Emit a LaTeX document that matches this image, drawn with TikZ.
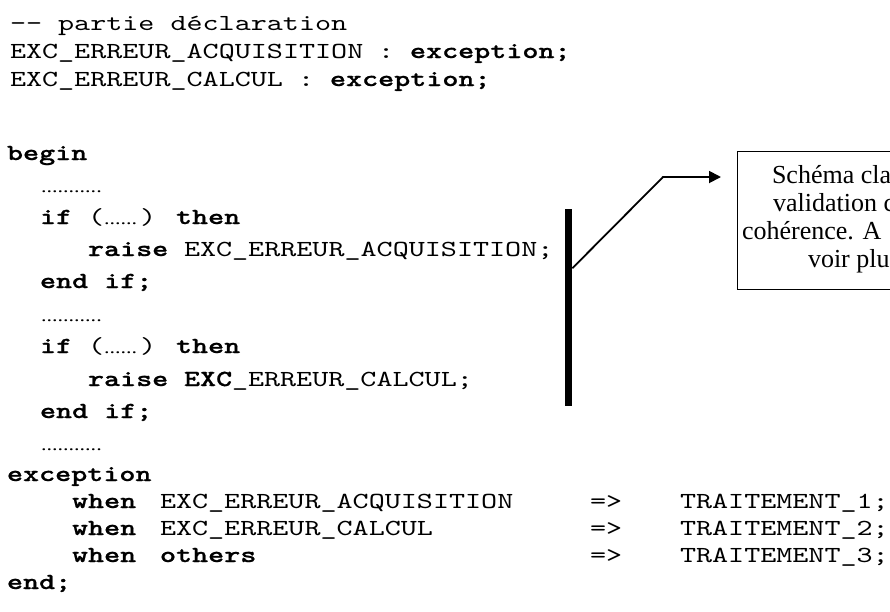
\documentclass[tikz,border=0pt]{standalone}
\usepackage{fontspec}
\usetikzlibrary{arrows.meta}
\newfontfamily\codefont{lmmono10-regular.otf}[BoldFont=lmmonolt10-bold.otf,FakeStretch=1.33,BoldFeatures={FakeBold=0.8}]
\newfontfamily\serfont{Liberation Serif}[FakeStretch=1.3]
\newfontfamily\notefont{Liberation Serif}
\tikzset{
  code/.style={anchor=base west,inner sep=0pt,outer sep=0pt,font={\codefont\fontsize{23}{23}\selectfont}},
  codeb/.style={anchor=base west,inner sep=0pt,outer sep=0pt,font={\codefont\bfseries\fontsize{23}{23}\selectfont}},
  dotsty/.style={anchor=base west,inner sep=0pt,outer sep=0pt,font={\serfont\fontsize{17}{17}\selectfont}},
  notetext/.style={anchor=base west,inner sep=0pt,outer sep=0pt,font={\notefont\fontsize{26}{28}\selectfont}},
  notebox/.style={draw,line width=1pt,anchor=north west,inner sep=0pt,minimum width=300pt,minimum height=138pt},
  barsty/.style={fill=black,anchor=north west,inner sep=0pt,minimum width=7pt,minimum height=197pt},
  conn/.style={line width=1.8pt,-{Triangle[length=12pt,width=12pt]},shorten >=16pt}
}
\begin{document}
\begin{tikzpicture}[x=1pt,y=-1pt]
\useasboundingbox (0,0) rectangle (890,611);
\fill[white] (0,0) rectangle (890,611);
\clip (0,0) rectangle (890,611);
% header
\node[code] (h1) at (10,30) {-{}- partie déclaration};
\node[code] (h2a) at (10,58) {EXC\_ERREUR\_ACQUISITION};
\node[code] (h2b) at (378,58) {:};
\node[codeb] (h2c) at (410,58) {exception;};
\node[code] (h3a) at (10,86) {EXC\_ERREUR\_CALCUL};
\node[code] (h3b) at (298,86) {:};
\node[codeb] (h3c) at (330,86) {exception;};
% begin block
\node[codeb] (b1) at (7,160) {begin};
\node[dotsty] (d1) at (41,192) {...........};
\node[codeb] (if1) at (40,224) {if};
\node[code] (if1p) at (88,224) {(};
\node[dotsty] (if1d) at (104,224) {......};
\node[code] (if1q) at (140,224) {)};
\node[codeb] (if1t) at (176,224) {then};
\node[codeb] (r1) at (88,256) {raise};
\node[code] (r1e) at (184,256) {EXC\_ERREUR\_ACQUISITION;};
\node[codeb] (e1) at (40,288) {end if;};
\node[dotsty] (d2) at (41,321) {...........};
\node[codeb] (if2) at (40,353) {if};
\node[code] (if2p) at (88,353) {(};
\node[dotsty] (if2d) at (104,353) {......};
\node[code] (if2q) at (140,353) {)};
\node[codeb] (if2t) at (176,353) {then};
\node[codeb] (r2) at (88,386) {raise};
\node[codeb] (r2e) at (184,386) {EXC};
\node[code] (r2f) at (232,386) {\_ERREUR\_CALCUL;};
\node[codeb] (e2) at (40,418) {end if;};
\node[dotsty] (d3) at (41,450) {...........};
\node[codeb] (ex) at (7,481) {exception};
\node[codeb] (w1) at (72,508) {when};
\node[code] (w1e) at (160,508) {EXC\_ERREUR\_ACQUISITION};
\node[code] (w1a) at (590,508) {=>};
\node[code] (w1t) at (680,508) {TRAITEMENT\_1;};
\node[codeb] (w2) at (72,535) {when};
\node[code] (w2e) at (160,535) {EXC\_ERREUR\_CALCUL};
\node[code] (w2a) at (590,535) {=>};
\node[code] (w2t) at (680,535) {TRAITEMENT\_2;};
\node[codeb] (w3) at (72,562) {when};
\node[codeb] (w3e) at (160,562) {others};
\node[code] (w3a) at (590,562) {=>};
\node[code] (w3t) at (680,562) {TRAITEMENT\_3;};
\node[codeb] (en) at (7,589) {end;};
% bar and note
\node[barsty] (bar) at (565,209) {};
\node[notebox] (box) at (737,151) {};
\node[notetext] (n1) at (772,183) {Schéma cla};
\node[notetext] (n2) at (773,211) {validation c};
\node[notetext] (n3) at (742,239) {cohérence. A};
\node[notetext] (n4) at (808,267) {voir plu};
\coordinate (barpt) at ([yshift=39.5pt]bar.east);
\coordinate (bend) at (663,177);
\draw[conn] (barpt) -- (bend) -- (bend -| box.west);
\end{tikzpicture}
\end{document}
